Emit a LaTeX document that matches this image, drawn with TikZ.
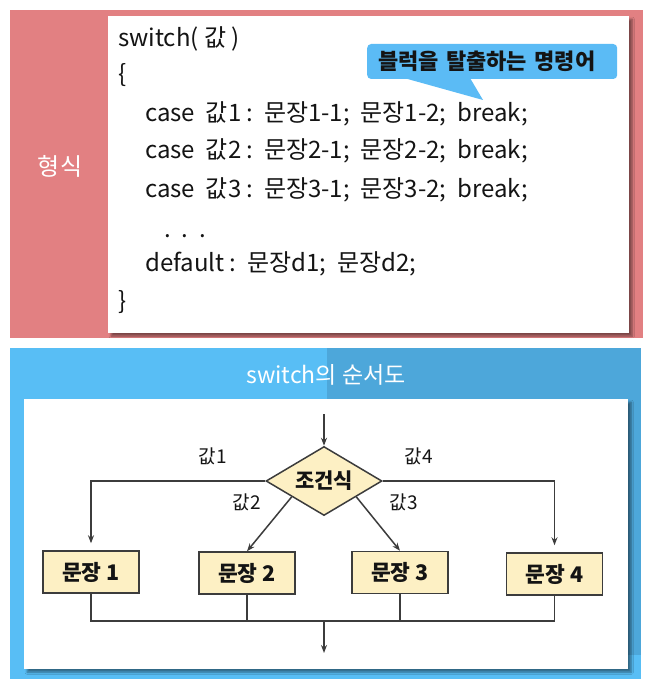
\documentclass[tikz,border=0pt]{standalone}
\usepackage{fontspec}
\setmainfont{Noto Sans CJK KR}
\usetikzlibrary{shapes.geometric,arrows.meta,calc,shadows.blur}
\definecolor{pinkbg}{RGB}{226,128,130}
\definecolor{blueL}{RGB}{88,190,245}
\definecolor{blueD}{RGB}{77,167,218}
\definecolor{callblue}{RGB}{91,187,245}
\definecolor{boxfill}{RGB}{253,240,196}
\definecolor{lnc}{RGB}{60,60,60}
\definecolor{txt}{RGB}{20,20,20}
\tikzset{
  codeline/.style={anchor=base west,inner sep=0pt,font=\fontsize{24}{24}\selectfont,text=txt},
  whitebox/.style={fill=white,draw=none,blur shadow={shadow xshift=3pt,shadow yshift=-3pt,shadow blur steps=6,shadow opacity=45}},
  stmt/.style={draw=lnc,line width=1.5pt,fill=boxfill,minimum width=96pt,minimum height=42pt,inner sep=0pt,font=\bfseries\fontsize{21.5}{21.5}\selectfont,text=txt},
  cond/.style={diamond,aspect=2,draw=lnc,line width=1.5pt,fill=boxfill,minimum width=116pt,minimum height=69pt,inner sep=0pt,font=\bfseries\fontsize{21}{21}\selectfont,text=txt},
  lbl/.style={inner sep=0pt,font=\fontsize{19}{19}\selectfont,text=txt},
  ln/.style={draw=lnc,line width=1.5pt},
  arr/.style={ln,-{Stealth[length=8pt,width=6pt]}},
}
\begin{document}
\begin{tikzpicture}[x=1pt,y=-1pt]
\useasboundingbox (0,0) rectangle (649,679);
% ---------- top panel ----------
\fill[pinkbg] (10,10) rectangle (643,338);
\node[whitebox,anchor=north west,minimum width=521pt,minimum height=317pt,inner sep=0pt] (codebox) at (108,16) {};
\node[inner sep=0pt,text=white,font=\fontsize{24}{24}\selectfont] (hyeongsik) at (60,166) {형식};
\node[codeline] (l0) at (118,47) {switch( 값 )};
\node[codeline] (l1) at (118,83) {\{};
\node[codeline] (l2) at (145,122) {case\ \ 값1 :\ \ 문장1-1;\ \ 문장1-2;\ \ break;};
\node[codeline] (l3) at (145,159) {case\ \ 값2 :\ \ 문장2-1;\ \ 문장2-2;\ \ break;};
\node[codeline] (l4) at (145,197) {case\ \ 값3 :\ \ 문장3-1;\ \ 문장3-2;\ \ break;};
\node[codeline] (l5) at (164,237) {.\ \ .\ \ .};
\node[codeline] (l6) at (145,271) {default :\ \ 문장d1;\ \ 문장d2;};
\node[codeline] (l7) at (118,309) {\}};
% callout
\fill[callblue] (404,78) -- (483,100) -- (470,78) -- cycle;
\node[fill=callblue,rounded corners=4pt,anchor=west,text width=228pt,align=left,inner xsep=11pt,inner ysep=0pt,minimum height=35pt,font=\bfseries\fontsize{22}{22}\selectfont,text=txt] (callout) at (367,61.5) {블럭을 탈출하는 명령어};
% ---------- bottom panel ----------
\fill[blueL] (10,348) rectangle (641,679);
\fill[blueD] (327,348) rectangle (641,655);
\node[inner sep=0pt,text=white,font=\fontsize{23}{23}\selectfont] (title) at (326,375) {switch의 순서도};
\node[whitebox,anchor=north west,minimum width=604pt,minimum height=270pt,inner sep=0pt] (flowbox) at (24,399) {};
\node[cond] (c) at (324,481) {조건식};
\node[stmt] (b1) at (91,572) {문장\ 1};
\node[stmt] (b2) at (247,573) {문장\ 2};
\node[stmt] (b3) at (400,572.5) {문장\ 3};
\node[stmt] (b4) at (554.5,574) {문장\ 4};
\node[lbl] (v1) at (213,456) {값1};
\node[lbl] (v4) at (419,456) {값4};
\node[lbl] (v2) at (247,502) {값2};
\node[lbl] (v3) at (404,502) {값3};
\coordinate (in) at (324,414);
\coordinate (bus) at (91,621);
\coordinate (out) at (324,653);
\draw[arr] (in) -- (c.north);
\draw[arr,shorten >=7pt] (c.west) -| (b1.north);
\draw[arr,shorten >=7pt] (c.east) -| (b4.north);
\draw[arr] ($(c.west)!0.45!(c.south)$) -- (b2.north);
\draw[arr] ($(c.east)!0.45!(c.south)$) -- (b3.north);
\draw[ln] (b1.south) -- (bus) -- (b4.south |- bus) -- (b4.south);
\draw[ln] (b2.south) -- (b2.south |- bus);
\draw[ln] (b3.south) -- (b3.south |- bus);
\draw[arr] (c.south |- bus) -- (out);
\end{tikzpicture}
\end{document}
